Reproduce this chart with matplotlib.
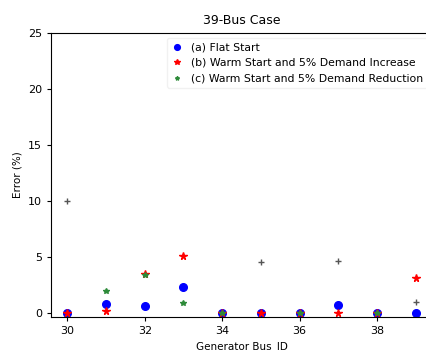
import matplotlib
matplotlib.use("Agg")
import matplotlib.pyplot as plt

# Generator bus IDs and error values (%) for each start condition
bus_ids = [30, 31, 32, 33, 34, 35, 36, 37, 38, 39]
flat_start = [0.0, 0.8, 0.6, 2.3, 0.0, 0.0, 0.0, 0.7, 0.0, 0.0]
warm_increase = [0.0, 0.2, 3.5, 5.1, 0.0, 0.0, 0.0, 0.0, 0.0, 3.1]
reduction_ids = [31, 32, 33, 34, 36, 38]
warm_reduction = [1.9, 3.4, 0.9, 0.0, 0.0, 0.0]
extra_ids = [30, 35, 37, 39]
extra_vals = [10.0, 4.5, 4.6, 1.0]

labels = ["(a) Flat Start",
          "(b) Warm Start and 5% Demand Increase",
          "(c) Warm Start and 5% Demand Reduction"]

fig = plt.figure(figsize=(4.27, 3.52), dpi=100)
ax = fig.add_axes([0.119, 0.100, 0.895, 0.807])

ax.plot(bus_ids, flat_start, "o", color="blue", markersize=5.5, label=labels[0])
ax.plot(bus_ids, warm_increase, "*", color="red", markersize=5.5, label=labels[1])
ax.plot(reduction_ids, warm_reduction, "*", color="#2e8b3a", markersize=4, label=labels[2])
ax.plot(extra_ids, extra_vals, "+", color="#555555", markersize=5, markeredgewidth=1.0)

ax.set_xlim(29.57, 39.45)
ax.set_ylim(-0.36, 25)
ax.set_xticks([30, 32, 34, 36, 38])
ax.set_yticks([0, 5, 10, 15, 20, 25])
ax.tick_params(labelsize=8, length=3)
ax.set_title("39-Bus Case", fontsize=9)
ax.set_xlabel("Generator Bus_ID", fontsize=7.5)
ax.set_ylabel("Error (%)", fontsize=7.5)
ax.legend(loc="upper right", fontsize=7.8, frameon=True, edgecolor="#eeeeee",
          handletextpad=0.8, labelspacing=0.5, handlelength=1.0,
          markerscale=0.75, borderaxespad=0.5)

fig.savefig("out.png", dpi=100)
